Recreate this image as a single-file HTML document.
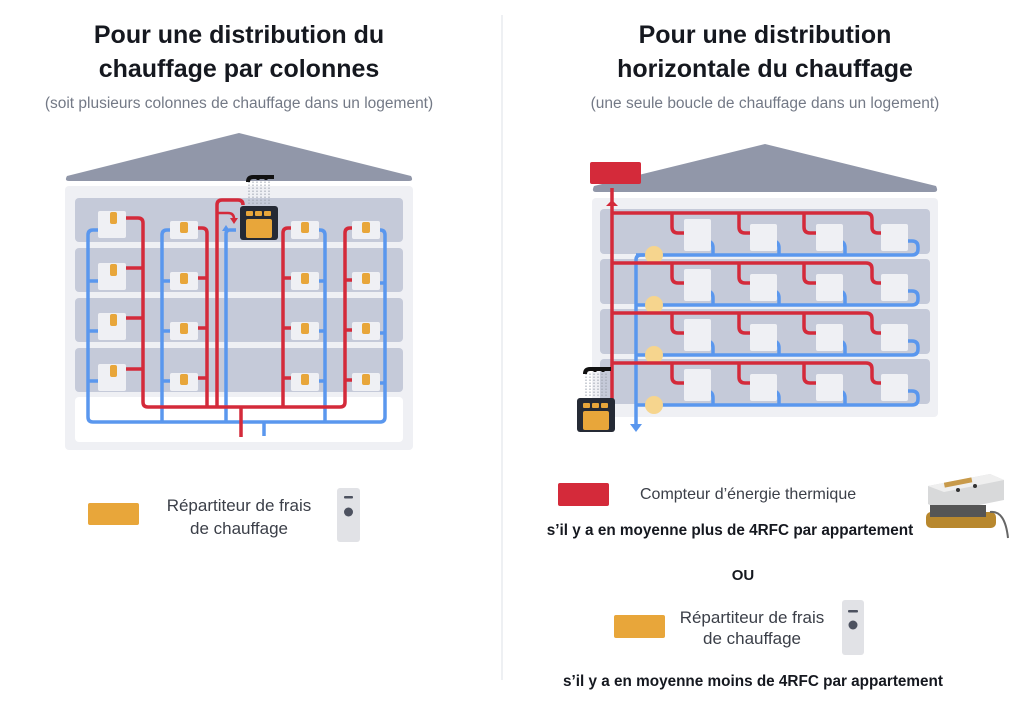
<!DOCTYPE html>
<html><head><meta charset="utf-8"><style>
html,body{margin:0;padding:0;background:#fff;}
svg{display:block;font-family:"Liberation Sans",sans-serif;}
</style></head><body>
<svg width="1024" height="711" viewBox="0 0 1024 711" xmlns="http://www.w3.org/2000/svg">
<defs>
<g id="boiler">
 <rect x="0" y="0" width="38" height="34" rx="3" fill="#252a35"/>
 <rect x="6" y="5" width="7" height="5" rx="1" fill="#e8a63a"/>
 <rect x="15" y="5" width="7" height="5" rx="1" fill="#e8a63a"/>
 <rect x="24" y="5" width="7" height="5" rx="1" fill="#e8a63a"/>
 <rect x="6" y="13" width="26" height="19" rx="2" fill="#e8a63a"/>
 <g stroke="#9aa0ac" stroke-width="1"><path d="M9 -2V-26M13 -2V-26M17 -2V-26M21 -2V-26M25 -2V-26M29 -2V-26" stroke-dasharray="1.5 1.5"/></g>
 <path d="M8 -24 Q8 -29 13 -29 H34" stroke="#111" stroke-width="4" fill="none"/>
 <path d="M18 -26V-29M26 -26V-29" stroke="#111" stroke-width="3"/>
</g>
<g id="radL"><rect width="28" height="27" rx="2" fill="#eff0f4"/><rect x="12" y="1" width="7" height="12" rx="2" fill="#e8a63a"/></g>
<g id="radS"><rect width="28" height="18" rx="2" fill="#eff0f4"/><rect x="10" y="1" width="8" height="11" rx="2" fill="#e8a63a"/></g>
<g id="floorR" fill="none" stroke-width="3.5">
 <path d="M612 0 H866 Q872 0 872 6 V14 Q872 20 878 20 H884" stroke="#d42a3a"/>
 <path d="M672 0 V14 Q672 20 678 20 H684 M739 0 V14 Q739 20 745 20 H750 M804 0 V14 Q804 20 810 20 H816" stroke="#d42a3a"/>
 <path d="M636 42 H912 Q918 42 918 36 V34 Q918 28 912 28 H906 M706 28 Q713 28 713 35 V42 M772 28 Q779 28 779 35 V42 M838 28 Q845 28 845 35 V42" stroke="#5a97ee"/>
 <rect x="684" y="6" width="27" height="32" rx="2" fill="#eff0f4" stroke="none"/>
 <rect x="750" y="11" width="27" height="27" rx="2" fill="#eff0f4" stroke="none"/>
 <rect x="816" y="11" width="27" height="27" rx="2" fill="#eff0f4" stroke="none"/>
 <rect x="881" y="11" width="27" height="27" rx="2" fill="#eff0f4" stroke="none"/>
 <circle cx="654" cy="42" r="9" fill="#f6d58e" stroke="none"/>
</g>
</defs>

<rect x="501" y="15" width="2" height="665" fill="#eef0f3"/>

<g font-weight="bold" font-size="25" fill="#15181f" text-anchor="middle">
<text x="239" y="43">Pour une distribution du</text>
<text x="239" y="77">chauffage par colonnes</text>
<text x="765" y="43">Pour une distribution</text>
<text x="765" y="77">horizontale du chauffage</text>
</g>
<g font-size="15.5" fill="#737986" text-anchor="middle">
<text x="239" y="108">(soit plusieurs colonnes de chauffage dans un logement)</text>
<text x="765" y="108">(une seule boucle de chauffage dans un logement)</text>
</g>

<!-- LEFT BUILDING -->
<path d="M67 176 L239 133 L411 176 Q414 181 409 181 H69 Q64 181 67 176Z" fill="#9197a9"/>
<rect x="65" y="186" width="348" height="264" rx="4" fill="#eff0f4"/>
<g fill="#c5cad9">
<rect x="75" y="198" width="328" height="44" rx="4"/>
<rect x="75" y="248" width="328" height="44" rx="4"/>
<rect x="75" y="298" width="328" height="44" rx="4"/>
<rect x="75" y="348" width="328" height="44" rx="4"/>
</g>
<rect x="75" y="397" width="328" height="45" rx="4" fill="#fff"/>
<g fill="none" stroke-width="3.5">
 <path d="M98 230 H93 Q88 230 88 235 V417 Q88 422 93 422 H380 Q385 422 385 417 V235 Q385 230 380 230 H378" stroke="#5a97ee"/>
 <path d="M170 230 H167 Q162 230 162 235 V422 M325 422 V235 Q325 230 320 230 H318 M226 422 V234 Q226 230 230 230 H236" stroke="#5a97ee"/>
 <path d="M88 281 H98 M88 331 H98 M88 381 H98 M162 281 H170 M162 331 H170 M162 381 H170 M325 281 H318 M325 331 H318 M325 381 H318 M385 283 H379 M385 333 H379 M385 383 H379 M264 422 V436" stroke="#5a97ee"/>
 <path d="M126 218 H138 Q143 218 143 223 V402 Q143 407 148 407 H340 Q345 407 345 402 V233 Q345 228 350 228 H352" stroke="#d42a3a"/>
 <path d="M197 228 H202 Q207 228 207 233 V407 M283 407 V233 Q283 228 288 228 H291 M217 407 V205 Q217 200 222 200 H238 Q243 200 243 205 M241 407 V437" stroke="#d42a3a"/>
 <path d="M126 268 H143 M126 318 H143 M126 369 H143 M197 278 H207 M197 328 H207 M197 378 H207 M291 278 H283 M291 328 H283 M291 378 H283 M352 280 H345 M352 330 H345 M352 380 H345" stroke="#d42a3a"/>
 <path d="M217 213 H228 Q234 213 234 219" stroke="#d42a3a" stroke-width="2.5"/>
</g>
<path d="M230 218 L234 224 L238 218Z" fill="#d42a3a"/>
<path d="M222 231 L226 225 L230 231Z" fill="#5a97ee"/>
<use href="#radL" x="98" y="211"/>
<use href="#radL" x="98" y="263"/>
<use href="#radL" x="98" y="313"/>
<use href="#radL" x="98" y="364"/>
<use href="#radS" x="170" y="221"/><use href="#radS" x="170" y="272"/><use href="#radS" x="170" y="322"/><use href="#radS" x="170" y="373"/>
<use href="#radS" x="291" y="221"/><use href="#radS" x="291" y="272"/><use href="#radS" x="291" y="322"/><use href="#radS" x="291" y="373"/>
<use href="#radS" x="352" y="221"/><use href="#radS" x="352" y="272"/><use href="#radS" x="352" y="322"/><use href="#radS" x="352" y="373"/>
<use href="#boiler" x="240" y="206"/>

<!-- RIGHT BUILDING -->
<path d="M594 186 L765 144 L936 186 Q939 192 934 192 H596 Q591 192 594 186Z" fill="#9197a9"/>
<rect x="592" y="198" width="346" height="219" rx="4" fill="#eff0f4"/>
<g fill="#c5cad9">
<rect x="600" y="209" width="330" height="45" rx="4"/>
<rect x="600" y="259" width="330" height="45" rx="4"/>
<rect x="600" y="309" width="330" height="45" rx="4"/>
<rect x="600" y="359" width="330" height="45" rx="4"/>
</g>
<path d="M612 400 V188" stroke="#d42a3a" stroke-width="3.5" fill="none"/>
<path d="M606 206 L612 200 L618 206Z" fill="#d42a3a"/>
<path d="M644 255 H641 Q636 255 636 260 V426" stroke="#5a97ee" stroke-width="3.5" fill="none"/>
<path d="M630 424 L636 432 L642 424Z" fill="#5a97ee"/>
<use href="#floorR" x="0" y="213"/>
<use href="#floorR" x="0" y="263"/>
<use href="#floorR" x="0" y="313"/>
<use href="#floorR" x="0" y="363"/>
<rect x="590" y="162" width="51" height="22" rx="2" fill="#d42a3a"/>
<use href="#boiler" x="577" y="398"/>

<!-- LEFT LEGEND -->
<rect x="88" y="503" width="51" height="22" rx="2" fill="#e8a63a"/>
<g font-size="17" fill="#3b3f48" text-anchor="middle">
<text x="239" y="511">Répartiteur de frais</text>
<text x="239" y="534">de chauffage</text>
</g>
<rect x="337" y="488" width="23" height="54" rx="3" fill="#e1e2e6"/>
<rect x="344" y="496" width="9" height="2.5" rx="1" fill="#4d5260"/>
<circle cx="348.5" cy="512" r="4.5" fill="#4d5260"/>

<!-- RIGHT LEGEND -->
<rect x="558" y="483" width="51" height="23" rx="2" fill="#d42a3a"/>
<text x="640" y="499" font-size="16" fill="#3b3f48">Compteur d’énergie thermique</text>
<text x="730" y="535" font-size="15.3" font-weight="bold" fill="#15181f" text-anchor="middle">s’il y a en moyenne plus de 4RFC par appartement</text>
<text x="743" y="580" font-size="15" font-weight="bold" fill="#15181f" text-anchor="middle">OU</text>
<rect x="614" y="615" width="51" height="23" rx="2" fill="#e8a63a"/>
<g font-size="17" fill="#3b3f48" text-anchor="middle">
<text x="752" y="623">Répartiteur de frais</text>
<text x="752" y="644">de chauffage</text>
</g>
<rect x="842" y="600" width="22" height="55" rx="3" fill="#e1e2e6"/>
<rect x="848" y="610" width="10" height="2.5" rx="1" fill="#4d5260"/>
<circle cx="853" cy="625" r="4.5" fill="#4d5260"/>
<text x="753" y="686" font-size="15.3" font-weight="bold" fill="#15181f" text-anchor="middle">s’il y a en moyenne moins de 4RFC par appartement</text>

<g>
<path d="M928 486 L990 474 L1004 480 L1004 500 L944 512 L928 504Z" fill="#d8d9da"/>
<path d="M928 486 L990 474 L1004 480 L944 492Z" fill="#efefef"/>
<rect x="944" y="480" width="28" height="5" fill="#c89a4a" transform="rotate(-11 958 482)"/>
<circle cx="958" cy="490" r="2" fill="#333"/><circle cx="975" cy="486" r="2" fill="#333"/>
<rect x="926" y="512" width="70" height="16" rx="5" fill="#b8882e"/>
<rect x="930" y="505" width="56" height="12" fill="#555"/>
<path d="M990 512 Q1005 510 1008 538" stroke="#666" stroke-width="2" fill="none"/>
</g>
</svg>
</body></html>
